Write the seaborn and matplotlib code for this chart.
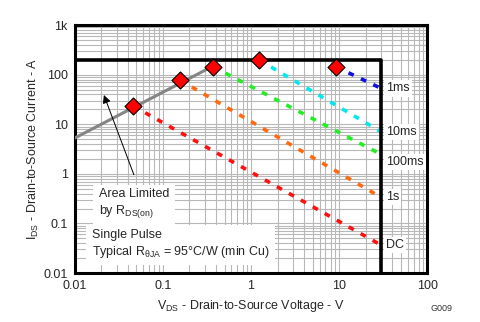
import numpy as np
import pandas as pd
import matplotlib
matplotlib.use("Agg")
import matplotlib.pyplot as plt
from matplotlib.ticker import FixedLocator, FixedFormatter, LogLocator, NullFormatter
import seaborn as sns

# Safe operating area data (V in volts, I in amps)
pulse_labels = ["1ms", "10ms", "100ms", "1s", "DC"]
pulse_colors = ["#1010e0", "#00e8f0", "#22ee22", "#ff6a10", "#ff1010"]
start_v = [9.25, 1.24, 0.373, 0.156, 0.046]
start_i = [144, 197, 144, 77.8, 23.3]
end_v = [30, 30, 30, 30, 30]
end_i = [53, 7.06, 2.47, 0.336, 0.0367]
label_i = [53, 7.06, 1.75, 0.336, 0.0367]

limit_v = [0.01, 30, 30]
limit_i = [200, 200, 0.01]
rds_v = [0.01, 0.373]
rds_i = [5.3, 150]

x_ticks = [0.01, 0.1, 1, 10, 100]
x_ticklabels = ["0.01", "0.1", "1", "10", "100"]
y_ticks = [0.01, 0.1, 1, 10, 100, 1000]
y_ticklabels = ["0.01", "0.1", "1", "10", "100", "1k"]

sns.set_style("white")
plt.rcParams["font.family"] = ["Liberation Sans", "DejaVu Sans"]
plt.rcParams["mathtext.fontset"] = "custom"
plt.rcParams["mathtext.rm"] = "Liberation Sans"
plt.rcParams["mathtext.it"] = "Liberation Sans"
plt.rcParams["mathtext.bf"] = "Liberation Sans:bold"

fig = plt.figure(figsize=(4.8, 3.22), dpi=100)
ax = fig.add_axes([0.156, 0.152, 0.734, 0.770])
ax.set_xscale("log")
ax.set_yscale("log")
ax.set_xlim(0.01, 100)
ax.set_ylim(0.01, 1000)

# grid
ax.xaxis.set_minor_locator(LogLocator(base=10, subs=np.arange(2, 10)))
ax.yaxis.set_minor_locator(LogLocator(base=10, subs=np.arange(2, 10)))
ax.xaxis.set_minor_formatter(NullFormatter())
ax.yaxis.set_minor_formatter(NullFormatter())
ax.grid(True, which="both", color="#b8b8b8", lw=0.8)
ax.set_axisbelow(True)

# pulse lines
rows = []
for lab, v0, i0, v1, i1 in zip(pulse_labels, start_v, start_i, end_v, end_i):
    rows.append({"series": lab, "V": v0, "I": i0})
    rows.append({"series": lab, "V": v1, "I": i1})
df = pd.DataFrame(rows)
sns.lineplot(data=df, x="V", y="I", hue="series", hue_order=pulse_labels,
             palette=pulse_colors, ax=ax, legend=False, lw=2.6, zorder=3,
             estimator=None, sort=False)
for line in ax.lines:
    line.set_dashes([1.6, 2.2])

# limits
ax.plot(limit_v, limit_i, color="black", lw=2.6, zorder=4, solid_capstyle="butt")
ax.plot(rds_v, rds_i, color="#858585", lw=2.2, zorder=4)

# markers
mk = pd.DataFrame({"V": start_v, "I": start_i})
sns.scatterplot(data=mk, x="V", y="I", marker="D", s=75, color="#ff0000",
                edgecolor="black", linewidth=0.8, ax=ax, zorder=5)

# labels at the right
for lab, yv in zip(pulse_labels, label_i):
    ax.text(34, yv, lab, fontsize=9, ha="left", va="center", zorder=6,
            bbox=dict(facecolor="white", edgecolor="none", pad=1.5))

ax.text(0.0187, 0.25, "Area Limited\nby R$_{\\mathrm{DS(on)}}$", fontsize=9,
        ha="left", va="center", linespacing=1.25, zorder=6,
        bbox=dict(facecolor="white", edgecolor="none", pad=4))
ax.text(0.0156, 0.038, "Single Pulse\nTypical R$_{\\mathrm{θJA}}$ = 95°C/W (min Cu)",
        fontsize=9, ha="left", va="center", linespacing=1.25, zorder=6,
        bbox=dict(facecolor="white", edgecolor="none", pad=4))

ax.annotate("", xy=(0.0208, 44), xytext=(0.048, 0.85),
            arrowprops=dict(arrowstyle="-|>", color="black", lw=0.7,
                            mutation_scale=12), zorder=7)

ax.xaxis.set_major_locator(FixedLocator(x_ticks))
ax.xaxis.set_major_formatter(FixedFormatter(x_ticklabels))
ax.yaxis.set_major_locator(FixedLocator(y_ticks))
ax.yaxis.set_major_formatter(FixedFormatter(y_ticklabels))
ax.tick_params(which="both", length=0, labelsize=9, pad=5)

for sp in ax.spines.values():
    sp.set_color("black")
    sp.set_linewidth(2.2)

ax.set_xlabel("V$_{\\mathrm{DS}}$ - Drain-to-Source Voltage - V", fontsize=9, labelpad=4)
ax.set_ylabel("I$_{\\mathrm{DS}}$ - Drain-to-Source Current - A", fontsize=9, labelpad=2)
fig.text(0.92, 0.035, "G009", fontsize=6.5, color="#333333", ha="center")

fig.savefig("out.png", dpi=100, facecolor="white")
